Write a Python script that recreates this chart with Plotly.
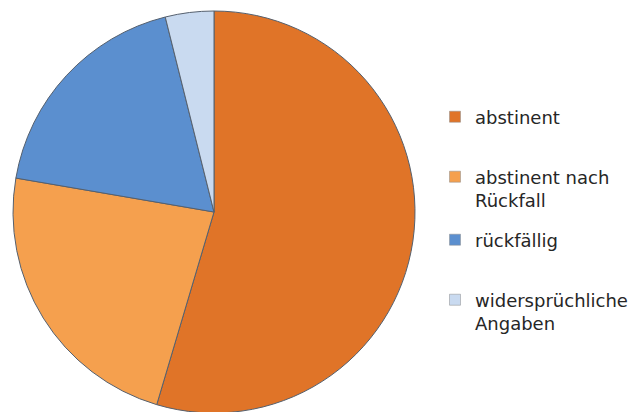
import plotly.graph_objects as go

labels = ["abstinent", "abstinent nach<br>Rückfall", "rückfällig", "widersprüchliche<br>Angaben"]
values = [54.6, 23.1, 18.4, 3.9]
colors = ["#E07428", "#F5A04E", "#5B8FCF", "#C9DAF0"]

fig = go.Figure()
fig.add_trace(go.Pie(
    labels=labels, values=values, sort=False, direction="clockwise", rotation=0,
    marker=dict(colors=colors, line=dict(color="#55606e", width=1)),
    textinfo="none", showlegend=False,
    domain=dict(x=[5/636, 407/636], y=[7/412, 409/412]),
))

legend_y = [0.7354, 0.5619, 0.4369, 0.2633]
layout_legends = {}
for i, (lab, col) in enumerate(zip(labels, colors)):
    key = "legend" if i == 0 else f"legend{i+1}"
    fig.add_trace(go.Scatter(
        x=[None], y=[None], mode="markers", name=lab,
        marker=dict(symbol="square", size=11, color=col, line=dict(color="#8a8a8a", width=0.5)),
        legend=key, showlegend=True, hoverinfo="skip",
    ))
    layout_legends[key] = dict(
        x=427/636, xanchor="left", y=legend_y[i], yanchor="middle",
        font=dict(family="DejaVu Sans", size=18, color="#262626"),
        bgcolor="rgba(0,0,0,0)", valign="top", itemwidth=30,
    )

fig.update_layout(
    width=636, height=412, margin=dict(l=0, r=0, t=0, b=0),
    paper_bgcolor="white", plot_bgcolor="white",
    xaxis=dict(visible=False), yaxis=dict(visible=False),
    **layout_legends,
)
fig.write_html("out.html")
